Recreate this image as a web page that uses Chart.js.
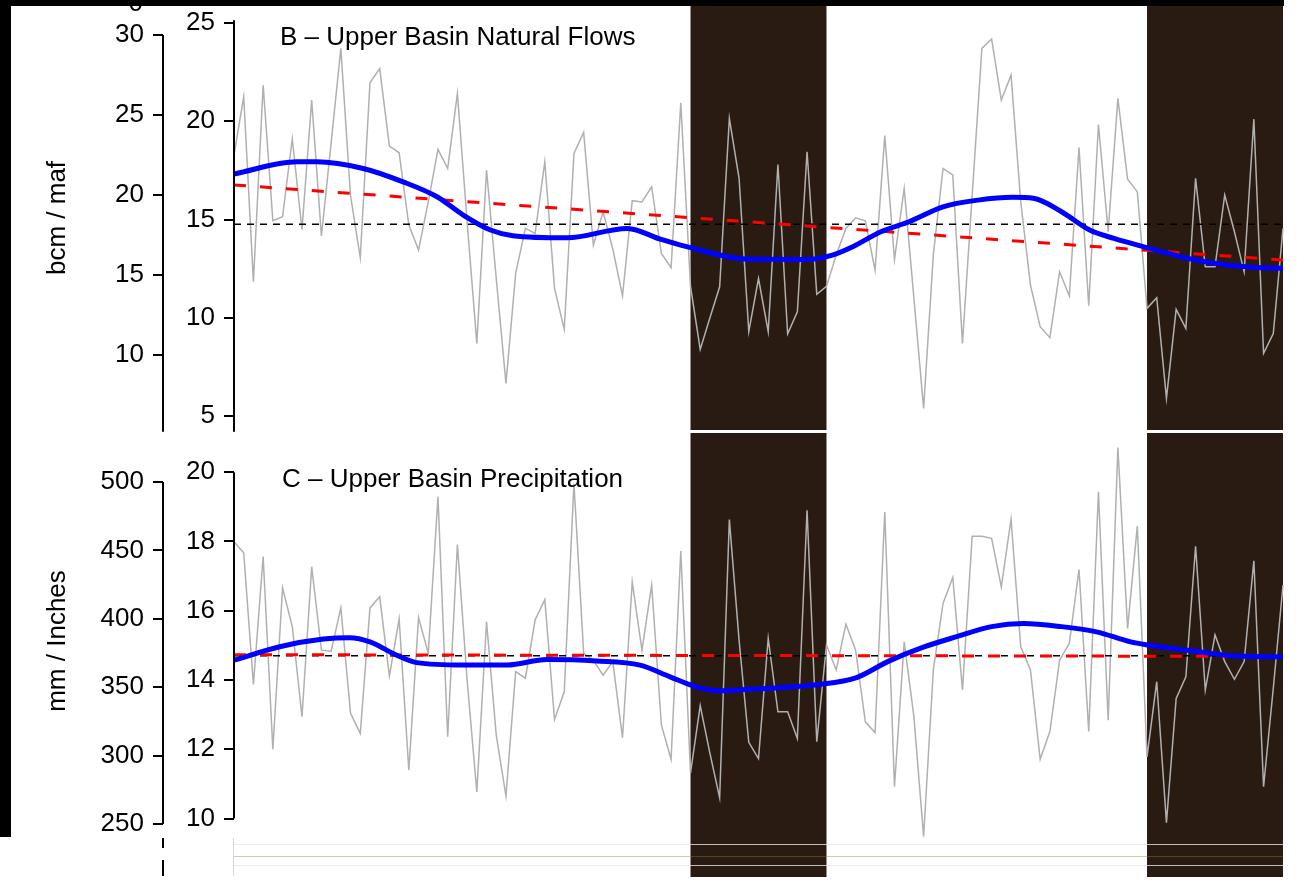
<!DOCTYPE html>
<html>
<head>
<meta charset="utf-8">
<script src="https://cdn.jsdelivr.net/npm/chart.js@4.4.1/dist/chart.umd.min.js"></script>
<style>
  html, body { margin: 0; padding: 0; background: #fff; }
  body { width: 1309px; height: 890px; position: relative; overflow: hidden; }
  canvas { position: absolute; left: 0; }
  #flows { top: 0; }
  #precip { top: 433px; }
  .strip { position: absolute; background: #000; z-index: 2; }
</style>
</head>
<body>
<canvas id="flows" width="1309" height="433"></canvas>
<canvas id="precip" width="1309" height="457"></canvas>
<div class="strip" style="left:0;top:0;width:1284px;height:6px"></div>
<div class="strip" style="left:0;top:0;width:11px;height:837px"></div>
<script>
const FIRST_YEAR = 1906;
const LAST_YEAR = 2014;
const DROUGHTS = [[1953, 1967], [2000, 2014]];

// Upper Basin natural flows, maf
const FLOWS = [
  18.28, 21.25, 11.84, 21.84, 14.94, 15.14, 19.1, 14.5, 21.08, 14.16,
  18.9, 23.71, 16.2, 13.06, 21.96, 22.69, 18.74, 18.4, 14.72, 13.45,
  15.9, 18.57, 17.6, 21.42, 14.9, 8.7, 17.52, 12.0, 6.66, 12.26,
  14.55, 14.3, 17.94, 11.5, 9.41, 18.37, 19.44, 13.7, 15.4, 13.5,
  11.12, 15.96, 15.9, 16.67, 13.28, 12.55, 20.94, 11.6, 8.39, 10.0,
  11.58, 20.15, 17.1, 9.3, 12.0, 9.29, 17.8, 9.18, 10.31, 18.45,
  11.2, 11.6, 13.2, 14.55, 15.09, 14.94, 12.43, 19.27, 12.97, 16.58,
  11.0, 5.39, 13.2, 17.6, 17.27, 8.7, 16.25, 23.71, 24.19, 21.08,
  22.35, 15.9, 11.67, 9.55, 8.99, 12.34, 11.11, 18.66, 10.61, 19.84,
  14.38, 21.17, 17.06, 16.42, 10.48, 11.02, 5.9, 10.43, 9.46, 17.1,
  12.6, 12.6, 16.25, 14.38, 12.34, 20.11, 8.19, 9.2, 14.55
];
const FLOWS_MEAN = 14.76;
const FLOWS_TREND = [16.76, 12.94];
const FLOWS_SMOOTH_YEARS = [1906, 1912.5, 1914.5, 1919.3, 1923.4, 1926.9, 1929.6, 1932.4, 1934.7, 1940.3,
  1946.5, 1949.9, 1952.6, 1958.8, 1965, 1967.6, 1969.7, 1972.6, 1975.5, 1979,
  1982.6, 1986.2, 1988.3, 1991.2, 1994.1, 1996.6, 2000.1, 2005.4, 2010.8, 2014];
const FLOWS_SMOOTH = [17.32, 17.94, 17.94, 17.6, 16.92, 16.16, 15.23, 14.47, 14.18, 14.07,
  14.55, 14.0, 13.62, 12.99, 12.97, 13.19, 13.62, 14.38, 14.89, 15.65,
  15.99, 16.13, 16.08, 15.4, 14.47, 14.04, 13.56, 12.9, 12.57, 12.52];
const FLOWS_MAF_TICKS = [5, 10, 15, 20, 25];
const FLOWS_BCM_TICKS = [10, 15, 20, 25, 30];

// Upper Basin precipitation, inches
const PRECIP = [
  17.99, 17.67, 13.87, 17.56, 12.0, 16.66, 15.54, 12.94, 17.27, 14.86,
  14.83, 16.08, 13.04, 12.46, 16.08, 16.4, 14.11, 15.76, 11.4, 15.8,
  14.77, 19.29, 12.36, 17.91, 14.0, 10.77, 15.68, 12.41, 10.65, 14.24,
  14.05, 15.73, 16.32, 12.86, 13.66, 19.67, 14.77, 14.57, 14.14, 14.53,
  12.33, 16.83, 14.86, 16.74, 12.7, 11.71, 17.72, 11.32, 13.26, 11.88,
  10.6, 18.63, 15.15, 12.2, 11.73, 15.2, 13.08, 13.08, 12.31, 18.9,
  12.22, 15.01, 14.29, 15.61, 14.86, 12.79, 12.48, 18.85, 10.92, 15.1,
  12.94, 9.48, 14.29, 16.21, 16.96, 13.71, 18.15, 18.15, 18.09, 16.69,
  18.64, 14.96, 14.29, 11.71, 12.51, 14.57, 15.06, 17.19, 12.51, 19.43,
  12.84, 20.71, 15.49, 18.44, 11.78, 13.95, 9.88, 13.47, 14.09, 17.86,
  13.71, 15.3, 14.53, 14.02, 14.53, 17.44, 10.92, 13.76, 16.74
];
const PRECIP_MEAN = 14.7;
const PRECIP_TREND = [14.73, 14.68];
const PRECIP_SMOOTH_YEARS = [1906, 1910.7, 1915.2, 1917.9, 1920, 1922.7, 1924.8, 1929.6, 1934.1, 1938.2,
  1943.3, 1947.8, 1950.9, 1953.6, 1956, 1959, 1966.2, 1970.1, 1973.3, 1976.9,
  1980.4, 1984, 1987.3, 1991.2, 1994.8, 1998.3, 2000.1, 2005.5, 2009.1, 2014];
const PRECIP_SMOOTH = [14.57, 14.96, 15.18, 15.22, 15.1, 14.72, 14.5, 14.43, 14.43, 14.59,
  14.55, 14.43, 14.09, 13.8, 13.69, 13.73, 13.87, 14.07, 14.53, 14.94,
  15.25, 15.54, 15.63, 15.54, 15.39, 15.1, 15.01, 14.81, 14.69, 14.67];
const PRECIP_IN_TICKS = [10, 12, 14, 16, 18, 20];
const PRECIP_MM_TICKS = [250, 300, 350, 400, 450, 500];

const FONT = "'Liberation Sans', Arial, sans-serif";
const FONT_SIZE = 26;
const YEARS = FLOWS.map((v, i) => FIRST_YEAR + i);

const bands = {
    id: 'bands',
    beforeDatasetsDraw(chart, args, opts) {
        const {ctx, chartArea, scales: {x}} = chart;
        ctx.save();
        ctx.fillStyle = '#291b12';
        DROUGHTS.forEach(([a, b]) => {
            const x0 = x.getPixelForValue(a), x1 = x.getPixelForValue(b);
            ctx.fillRect(x0, chartArea.top, x1 - x0, chartArea.bottom + (opts.extend || 0) - chartArea.top);
        });
        ctx.restore();
    }
};

const frame = {
    id: 'frame',
    afterDraw(chart, args, opts) {
        const {ctx} = chart;
        ctx.save();
        ctx.strokeStyle = '#000';
        ctx.lineWidth = 2;
        opts.axisLines.forEach(([id, from, to]) => {
            const s = chart.scales[id];
            const x = Math.round(s.right);
            ctx.beginPath();
            ctx.moveTo(x, s.getPixelForValue(from));
            ctx.lineTo(x, s.getPixelForValue(to));
            ctx.stroke();
        });
        ctx.fillStyle = '#000';
        ctx.font = FONT_SIZE + 'px ' + FONT;
        ctx.textBaseline = 'middle';
        ctx.textAlign = 'left';
        ctx.fillText(opts.title, opts.titleAt[0], opts.titleAt[1]);
        ctx.save();
        ctx.translate(opts.yTitleAt[0], opts.yTitleAt[1]);
        ctx.rotate(-Math.PI / 2);
        ctx.textAlign = 'center';
        ctx.fillText(opts.yTitle, 0, 0);
        ctx.restore();
        if (opts.extra) opts.extra(ctx, chart);
        ctx.restore();
    }
};

function yAxis(min, max, ticks, weight, width) {
    return {
        position: 'left',
        weight: weight,
        min: min,
        max: max,
        afterBuildTicks: s => { s.ticks = ticks.map(v => ({value: v})); },
        afterFit: s => { s.width = width; s.paddingTop = 0; s.paddingBottom = 0; },
        border: { display: false },
        grid: { drawOnChartArea: false, drawTicks: true, tickLength: 10, color: '#000', lineWidth: 2 },
        ticks: { autoSkip: false, color: '#000', padding: 9, font: { size: FONT_SIZE, family: FONT } }
    };
}

function makePanel(id, p) {
    const pts = (xs, ys) => xs.map((x, i) => ({x: x, y: ys[i]}));
    return new Chart(document.getElementById(id), {
        type: 'line',
        data: {
            datasets: [
                { data: pts(p.smoothYears, p.smooth), borderColor: '#0000ff', borderWidth: 5,
                  cubicInterpolationMode: 'monotone', pointRadius: 0, yAxisID: 'inner' },
                { data: pts([FIRST_YEAR, LAST_YEAR], p.trend), borderColor: '#ff0000', borderWidth: 3,
                  borderDash: [12, 14], pointRadius: 0, yAxisID: 'inner' },
                { data: pts([FIRST_YEAR, LAST_YEAR], [p.mean, p.mean]), borderColor: '#000', borderWidth: 1.5,
                  borderDash: [7, 6], pointRadius: 0, yAxisID: 'inner' },
                { data: pts(YEARS, p.annual), borderColor: '#b0b0b0', borderWidth: 1.5,
                  pointRadius: 0, yAxisID: 'inner', clip: false }
            ]
        },
        options: {
            responsive: false,
            animation: false,
            layout: { padding: p.padding },
            plugins: {
                legend: { display: false },
                tooltip: { enabled: false },
                bands: { extend: p.bandExtend || 0 },
                frame: p.frame
            },
            scales: {
                x: { type: 'linear', min: FIRST_YEAR, max: LAST_YEAR, display: false },
                inner: yAxis(p.inner[0], p.inner[1], p.innerTicks, 0, 71),
                outer: yAxis(p.outer[0], p.outer[1], p.outerTicks, 1, 163)
            }
        },
        plugins: [bands, frame]
    });
}

makePanel('flows', {
    annual: FLOWS, mean: FLOWS_MEAN, trend: FLOWS_TREND,
    smoothYears: FLOWS_SMOOTH_YEARS, smooth: FLOWS_SMOOTH,
    inner: [4.29, 25.92], outer: [5.31, 31.88],
    innerTicks: FLOWS_MAF_TICKS, outerTicks: FLOWS_BCM_TICKS,
    padding: { left: 0, right: 26, top: 5, bottom: 3 },
    frame: {
        axisLines: [['inner', 25.15, 4.2], ['outer', 30, 5.2]],
        title: 'B \u2013 Upper Basin Natural Flows', titleAt: [280, 38],
        yTitle: 'bcm / maf', yTitleAt: [58, 218],
        extra: ctx => { ctx.textAlign = 'right'; ctx.fillText('0', 143, 4); }
    }
});

makePanel('precip', {
    annual: PRECIP, mean: PRECIP_MEAN, trend: PRECIP_TREND,
    smoothYears: PRECIP_SMOOTH_YEARS, smooth: PRECIP_SMOOTH,
    inner: [9.524, 21.13], outer: [241.96, 535.8],
    innerTicks: PRECIP_IN_TICKS, outerTicks: PRECIP_MM_TICKS,
    padding: { left: 0, right: 26, top: 0, bottom: 55 },
    bandExtend: 42,
    frame: {
        axisLines: [['inner', 20, 10], ['outer', 500, 250]],
        title: 'C \u2013 Upper Basin Precipitation', titleAt: [282, 47],
        yTitle: 'mm / Inches', yTitleAt: [58, 208],
        extra: (ctx, chart) => {
            // remnants of the panel below the crop
            const {chartArea} = chart;
            ctx.fillStyle = '#000';
            ctx.fillRect(162, 405, 2, 10);
            ctx.fillRect(162, 427, 2, 16);
            ctx.fillStyle = 'rgba(200,200,200,0.7)';
            ctx.fillRect(233, 405, 1, 38);
            ctx.fillStyle = 'rgba(230,230,235,0.8)';
            ctx.fillRect(chartArea.left, 411, chartArea.right - chartArea.left, 1);
            ctx.fillRect(chartArea.left, 432, chartArea.right - chartArea.left, 1);
            ctx.fillStyle = 'rgba(150,120,60,0.4)';
            ctx.fillRect(chartArea.left, 423, chartArea.right - chartArea.left, 1);
        }
    }
});
</script>
</body>
</html>
